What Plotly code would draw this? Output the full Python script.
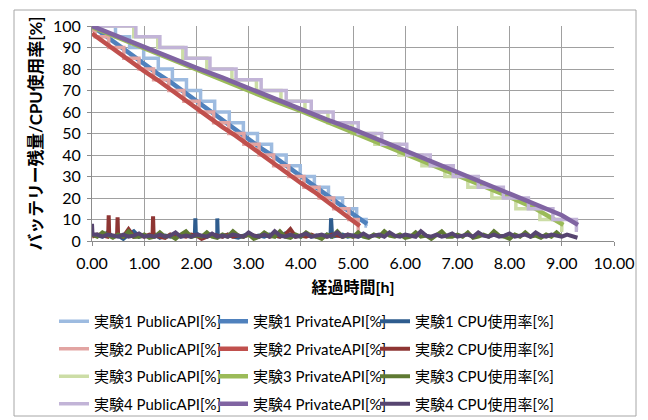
import plotly.graph_objects as go

# ---------------- data ----------------
# Public API battery level (step function, 5% resolution): transition times [h] and levels [%]
exp1_pub_t = [0.45, 0.72, 0.99, 1.27, 1.54, 1.81, 2.08, 2.35, 2.63, 2.90, 3.17, 3.44, 3.72, 3.99, 4.26, 4.53, 4.80, 5.07, 5.25]
exp1_pub_v = [100, 95, 90, 85, 80, 75, 70, 65, 60, 55, 50, 45, 40, 35, 30, 25, 20, 15, 10, 7]
exp1_pub_end = 5.27

exp2_pub_t = [0.06, 0.32, 0.61, 0.90, 1.18, 1.47, 1.76, 2.05, 2.33, 2.62, 2.91, 3.20, 3.48, 3.77, 4.06, 4.35, 4.63, 4.92, 5.10]
exp2_pub_v = [98, 95, 90, 85, 80, 75, 70, 65, 60, 55, 50, 45, 40, 35, 30, 25, 20, 15, 10, 5]
exp2_pub_end = 5.13

exp3_pub_t = [0.80, 1.26, 1.74, 2.20, 2.68, 3.15, 3.62, 4.08, 4.52, 4.98, 5.42, 5.88, 6.32, 6.76, 7.20, 7.66, 8.12, 8.58, 9.00]
exp3_pub_v = [100, 95, 90, 85, 80, 75, 70, 65, 60, 55, 50, 45, 40, 35, 30, 25, 20, 15, 10, 5]
exp3_pub_end = 9.03

exp4_pub_t = [0.84, 1.30, 1.80, 2.26, 2.76, 3.24, 3.72, 4.20, 4.62, 5.10, 5.55, 6.03, 6.48, 6.92, 7.40, 7.88, 8.36, 8.83, 9.28]
exp4_pub_v = [100, 95, 90, 85, 80, 75, 70, 65, 60, 55, 50, 45, 40, 35, 30, 25, 20, 15, 10, 5]
exp4_pub_end = 9.31

# Private API battery level [%]
exp1_priv_t = [0, 0.25, 0.5, 0.75, 1, 1.25, 1.5, 1.75, 2, 2.25, 2.5, 2.75, 3, 3.25, 3.5, 3.75, 4, 4.25, 4.5, 4.75, 5, 5.27]
exp1_priv_v = [100, 95.5, 91, 87, 82.5, 78, 74, 69.5, 65, 61, 56.5, 52, 47.5, 43, 39, 34.5, 30, 26, 21.5, 17, 12.5, 8]

exp2_priv_t = [0, 0.25, 0.5, 0.75, 1, 1.25, 1.5, 1.75, 2, 2.25, 2.5, 2.75, 3, 3.25, 3.5, 3.75, 4, 4.25, 4.5, 4.75, 5, 5.13]
exp2_priv_v = [96.5, 92, 88, 83.5, 79, 75, 70.5, 66, 62, 57.5, 53, 49, 44.5, 40, 36, 31.5, 27, 23, 18.5, 14, 9.5, 7]

exp3_priv_t = [0, 0.5, 1, 1.5, 2, 2.5, 3, 3.5, 4, 4.5, 5, 5.5, 6, 6.5, 7, 7.5, 8, 8.5, 9, 9.03]
exp3_priv_v = [99.5, 94.5, 89.5, 84.5, 79.5, 75, 70, 65, 60.5, 55.5, 51, 46, 41, 36, 31, 26, 20.5, 15, 8, 7.5]

exp4_priv_t = [0, 0.5, 1, 1.5, 2, 2.5, 3, 3.5, 4, 4.5, 5, 5.5, 6, 6.5, 7, 7.5, 8, 8.5, 9, 9.31]
exp4_priv_v = [100, 95, 90.5, 85.5, 80.5, 76, 71, 66, 61.5, 56.5, 52, 47, 42, 37, 32.5, 27.5, 22.5, 17.5, 12, 7.5]

# CPU usage [%], sampled every 0.1 h, plus short spikes
cpu_step = 0.1
exp1_cpu_v = [3, 2.5, 2, 4, 2, 2.5, 1, 3, 4.5, 2,
              2.5, 2, 3, 1.5, 2.5, 2, 3, 2, 2.5, 2,
              3.5, 2, 2, 3, 2.5, 2, 3, 2, 1.5, 2.5,
              3, 2, 2.5, 2, 3, 2.5, 2, 3.5, 2, 2.5,
              2, 3, 2, 2.5, 1.5, 3, 2, 2.5, 3, 2,
              2.5, 2, 3]
exp1_spk_t = [1.97, 1.98, 1.99, 2.39, 2.40, 2.41, 4.57, 4.58, 4.59]
exp1_spk_v = [2.5, 10.5, 2.5, 2.5, 10.5, 2.5, 2.5, 10.5, 2.5]

exp2_cpu_v = [2, 3, 2.5, 2, 2.5, 3, 2, 5.5, 2, 2.5,
              2, 3, 2.5, 2, 1.5, 3, 2, 2.5, 2, 3,
              2.5, 1, 2, 3, 2.5, 2, 3, 2, 2.5, 2,
              3, 2.5, 2, 3.5, 2, 2.5, 2, 3, 5.5, 2,
              2.5, 2, 3, 2, 2.5, 2, 3, 2.5, 2, 3,
              2, 2.5]
exp2_spk_t = [0.31, 0.32, 0.33, 0.48, 0.49, 0.50, 1.16, 1.17, 1.18]
exp2_spk_v = [2.5, 12, 2.5, 2.5, 11, 2.5, 2.5, 11.5, 2.5]

exp3_cpu_v = [3, 2, 4, 2.5, 1.5, 3, 2, 4.5, 2, 2,
              3, 1.5, 2, 4, 2, 2.5, 1, 3, 4.5, 2,
              2.5, 2, 4, 2, 1.5, 3, 2, 4.5, 2.5, 2,
              3, 1, 2, 4, 2.5, 2, 4.5, 2, 1.5, 3,
              2, 4, 2.5, 2, 1, 3, 2, 4.5, 2, 2.5,
              2, 4, 2, 1.5, 3, 2, 4.5, 2.5, 2, 3,
              1.5, 2, 4, 2, 2.5, 1, 3, 4.5, 2, 2,
              3, 2, 4, 1.5, 2, 3, 2, 4.5, 2.5, 2,
              1, 3, 2, 4, 2, 2.5, 1.5, 3, 2, 4,
              2]
exp3_spk_t = []
exp3_spk_v = []

exp4_cpu_v = [8, 3, 2, 3, 2.5, 2, 3, 2, 2.5, 3.5,
              2, 2.5, 2, 3, 2, 2.5, 4, 2, 2.5, 2,
              3, 2.5, 2, 3.5, 2, 2.5, 2, 3, 2.5, 2,
              4, 2.5, 2, 3, 2, 4.5, 2.5, 2, 3, 2,
              2.5, 3.5, 2, 2.5, 3, 2, 2.5, 4, 2, 3,
              2.5, 2, 3.5, 2, 2.5, 3, 2, 4, 2.5, 2,
              3, 2.5, 2, 4.5, 2.5, 2, 3, 2, 2.5, 3.5,
              2, 2.5, 3, 2, 4, 2.5, 2, 3, 2, 2.5,
              3.5, 2, 2.5, 3, 2, 4, 2.5, 2, 3, 2.5,
              2, 3, 2, 1.5]
exp4_spk_t = [0.01]
exp4_spk_v = [3]

x_ticks = [0, 1, 2, 3, 4, 5, 6, 7, 8, 9, 10]
y_ticks = [0, 10, 20, 30, 40, 50, 60, 70, 80, 90, 100]

names = ["実験1", "実験2", "実験3", "実験4"]
col_pub = ["#9DBBE0", "#E2A4A2", "#CCDDA6", "#C2B4D7"]
col_priv = ["#4F81BD", "#C0504D", "#9BBB59", "#8064A2"]
col_cpu = ["#2E5C8E", "#8E3533", "#5F7A32", "#574570"]

FONT = "Lato, 'Noto Sans CJK JP', sans-serif"


def step_xy(ts, vs, end):
    return [0] + list(ts) + [end], list(vs) + [vs[-1]]


def cpu_xy(vals, spk_t, spk_v):
    pts = [(round(i * cpu_step, 3), v) for i, v in enumerate(vals)] + list(zip(spk_t, spk_v))
    pts.sort(key=lambda p: p[0])
    return [p[0] for p in pts], [p[1] for p in pts]


pubs = [(exp1_pub_t, exp1_pub_v, exp1_pub_end), (exp2_pub_t, exp2_pub_v, exp2_pub_end),
        (exp3_pub_t, exp3_pub_v, exp3_pub_end), (exp4_pub_t, exp4_pub_v, exp4_pub_end)]
privs = [(exp1_priv_t, exp1_priv_v), (exp2_priv_t, exp2_priv_v),
         (exp3_priv_t, exp3_priv_v), (exp4_priv_t, exp4_priv_v)]
cpus = [(exp1_cpu_v, exp1_spk_t, exp1_spk_v), (exp2_cpu_v, exp2_spk_t, exp2_spk_v),
        (exp3_cpu_v, exp3_spk_t, exp3_spk_v), (exp4_cpu_v, exp4_spk_t, exp4_spk_v)]

fig = go.Figure()
for i in range(4):
    px, py = step_xy(*pubs[i])
    fig.add_trace(go.Scatter(x=px, y=py, mode="lines", line=dict(color=col_pub[i], width=3.5, shape="hv"),
                             name=f"{names[i]} PublicAPI[%]", legend="legend",
                             legendgroup=f"pub{i}"))
    fig.add_trace(go.Scatter(x=privs[i][0], y=privs[i][1], mode="lines",
                             line=dict(color=col_priv[i], width=4.5),
                             name=f"{names[i]} PrivateAPI[%]", legend="legend2",
                             legendgroup=f"priv{i}"))
    cx, cy = cpu_xy(*cpus[i])
    fig.add_trace(go.Scatter(x=cx, y=cy, mode="lines", line=dict(color=col_cpu[i], width=4),
                             name=f"{names[i]} CPU使用率[%]", legend="legend3",
                             legendgroup=f"cpu{i}"))

# page has an 8px body margin: figure coords = page coords - 8
OFF = 8
W, H = 648 - OFF, 420 - OFF
L = 92 - OFF
T = 26 - OFF
R = W - (614 - OFF)
B = H - (241 - OFF)
pw, ph = W - L - R, H - T - B


def px2paperx(x):
    return (x - OFF - L) / pw


def px2papery(y):
    return (T + ph - (y - OFF)) / ph


fig.add_shape(type="rect", xref="paper", yref="paper",
              x0=px2paperx(14), x1=px2paperx(636), y0=px2papery(416), y1=px2papery(10),
              line=dict(color="#A6A6A6", width=1), fillcolor="rgba(0,0,0,0)", layer="below")


def leg(xpx):
    return dict(orientation="v", x=px2paperx(xpx), xanchor="left", y=px2papery(305), yanchor="top",
                font=dict(size=15, family=FONT), bgcolor="rgba(0,0,0,0)",
                traceorder="grouped", tracegroupgap=5)


fig.update_layout(
    width=W, height=H,
    margin=dict(l=L, r=R, t=T, b=B, autoexpand=False),
    paper_bgcolor="white", plot_bgcolor="white",
    font=dict(family=FONT, size=15, color="#000000"),
    showlegend=True,
    legend=leg(54), legend2=leg(213), legend3=leg(375),
    xaxis=dict(range=[0, 10], tickvals=x_ticks, ticktext=[f"{v:.2f}" for v in x_ticks],
               showgrid=True, gridcolor="#A0A0A0", gridwidth=1,
               showline=True, linecolor="#8C8C8C", linewidth=1,
               ticks="outside", ticklen=4, tickcolor="#8C8C8C", ticklabelstandoff=4,
               zeroline=False, tickfont=dict(size=16),
               title=dict(text="<b>経過時間[h]</b>", font=dict(size=16), standoff=10)),
    yaxis=dict(range=[0, 100], tickvals=y_ticks,
               showgrid=True, gridcolor="#A0A0A0", gridwidth=1,
               showline=True, linecolor="#8C8C8C", linewidth=1,
               ticks="outside", ticklen=4, tickcolor="#8C8C8C", ticklabelstandoff=3,
               zeroline=False, tickfont=dict(size=16),
               title=dict(text="<b>バッテリー残量/CPU使用率[%]</b>", font=dict(size=16.8), standoff=6)),
)

fig.write_html("out.html")
